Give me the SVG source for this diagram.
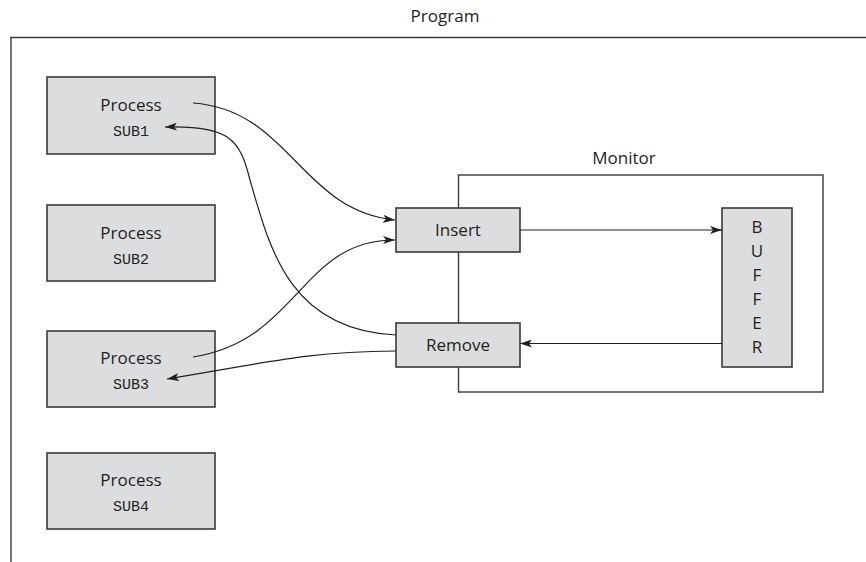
<svg xmlns="http://www.w3.org/2000/svg" width="866" height="562" viewBox="0 0 866 562">
<style>
.box{fill:#dcdddf;stroke:#3a3a3a;stroke-width:1.6}
.frame{fill:none;stroke:#3a3a3a;stroke-width:1.4}
.t{font-family:"Open Sans","Noto Sans",sans-serif;font-size:17px;fill:#231f20;text-anchor:middle}
.m{font-family:"Liberation Mono","Courier New","DejaVu Sans Mono",monospace;font-size:15px;fill:#231f20;text-anchor:middle}
.c{fill:none;stroke:#231f20;stroke-width:1.2}
</style>
<defs>
<marker id="ah" viewBox="0 0 12 8" refX="12" refY="4" markerWidth="12" markerHeight="8" markerUnits="userSpaceOnUse" orient="auto">
<path d="M0,0 L12,4 L0,8 L3,4 Z" fill="#231f20"/>
</marker>
</defs>
<g id="program">
<path class="frame" d="M11,562 V37.5 H866"/>
<text class="t" x="445" y="22">Program</text>
</g>
<g id="monitor">
<rect class="frame" x="458.5" y="175" width="364.5" height="217"/>
<text class="t" x="624" y="164">Monitor</text>
</g>
<g id="sub1">
<rect class="box" x="47" y="77" width="168" height="77"/>
<text class="t" x="131" y="111">Process</text>
<text class="m" x="131" y="136" style="font-family:'Liberation Mono',monospace">SUB1</text>
</g>
<g id="sub2">
<rect class="box" x="47" y="205" width="168" height="76"/>
<text class="t" x="131" y="239">Process</text>
<text class="m" x="131" y="264" style="font-family:'Liberation Mono',monospace">SUB2</text>
</g>
<g id="sub3">
<rect class="box" x="47" y="331" width="168" height="76"/>
<text class="t" x="131" y="364">Process</text>
<text class="m" x="131" y="389" style="font-family:'Liberation Mono',monospace">SUB3</text>
</g>
<g id="sub4">
<rect class="box" x="47" y="453" width="168" height="76"/>
<text class="t" x="131" y="486">Process</text>
<text class="m" x="131" y="511" style="font-family:'Liberation Mono',monospace">SUB4</text>
</g>
<g id="insert">
<rect class="box" x="396" y="208" width="124" height="44"/>
<text class="t" x="458" y="236">Insert</text>
</g>
<g id="remove">
<rect class="box" x="396" y="323" width="124" height="44"/>
<text class="t" x="458" y="351">Remove</text>
</g>
<g id="buffer">
<rect class="box" x="722" y="208" width="70" height="159"/>
<text class="t" x="757" y="233">B</text>
<text class="t" x="757" y="257">U</text>
<text class="t" x="757" y="281">F</text>
<text class="t" x="757" y="305">F</text>
<text class="t" x="757" y="329">E</text>
<text class="t" x="757" y="353">R</text>
</g>
<g id="connectors">
<path class="c" d="M193,103 C290,110 300,210 395,220" marker-end="url(#ah)"/>
<path class="c" d="M396,335 C290,330 270,250 250,180 C240,140 230,125 165,127" marker-end="url(#ah)"/>
<path class="c" d="M193,357 C300,340 300,240 395,240" marker-end="url(#ah)"/>
<path class="c" d="M396,351 C310,352 280,360 167,379" marker-end="url(#ah)"/>
<path class="c" d="M520,230 H722" marker-end="url(#ah)"/>
<path class="c" d="M722,343.5 H520" marker-end="url(#ah)"/>
</g>
</svg>
